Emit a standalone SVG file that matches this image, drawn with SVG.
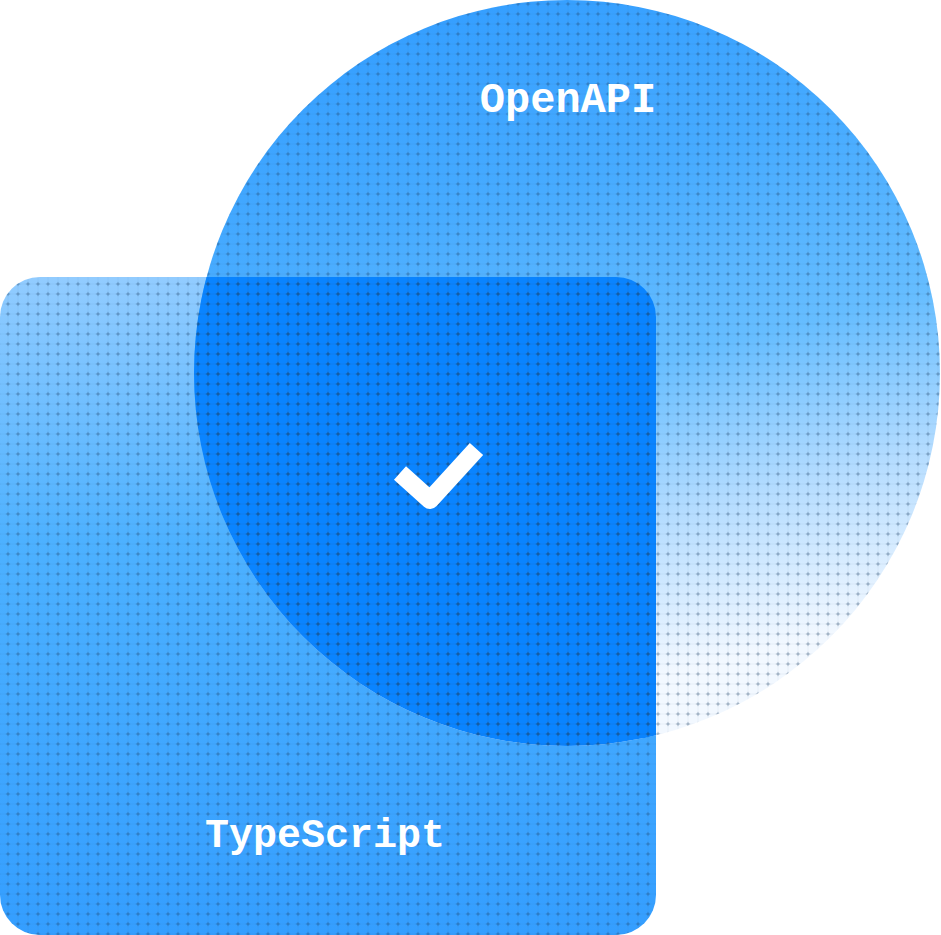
<svg xmlns="http://www.w3.org/2000/svg" width="941" height="935" viewBox="0 0 941 935">
  <defs>
    <style>
      .label { font-family: "Liberation Mono", "DejaVu Sans Mono", monospace; font-weight: 700; font-size: 40px; fill: #ffffff; text-anchor: middle; }
      .check { fill: none; stroke: #ffffff; stroke-width: 18; stroke-linejoin: round; stroke-linecap: butt; }
    </style>
    <linearGradient id="circleGrad" x1="0" y1="0" x2="0.25" y2="1">
      <stop offset="0" stop-color="#2e9aff"/>
      <stop offset="0.35" stop-color="#47abff"/>
      <stop offset="0.6" stop-color="#66bdff"/>
      <stop offset="0.8" stop-color="#b4dcff"/>
      <stop offset="1" stop-color="#f2f8ff"/>
    </linearGradient>
    <linearGradient id="rectGrad" x1="0" y1="0" x2="0" y2="1">
      <stop offset="0" stop-color="#92ccff"/>
      <stop offset="0.4" stop-color="#4db1ff"/>
      <stop offset="1" stop-color="#349eff"/>
    </linearGradient>
    <pattern id="dots" width="10" height="10" patternUnits="userSpaceOnUse" x="3" y="9">
      <path d="M0 5H10M5 0V10" stroke="#1f3f66" stroke-opacity="0.07" stroke-width="0.8" fill="none"/>
      <path d="M5 2.4L5.8 4.2L7.6 5L5.8 5.8L5 7.6L4.2 5.8L2.4 5L4.2 4.2Z" fill="#1f3f66" fill-opacity="0.36"/>
    </pattern>
    <clipPath id="rectClip">
      <rect x="0" y="277" width="656" height="658" rx="40" ry="40"/>
    </clipPath>
  </defs>

  <g id="typescript">
    <rect x="0" y="277" width="656" height="658" rx="40" ry="40" fill="url(#rectGrad)"/>
  </g>

  <g id="openapi">
    <circle cx="567" cy="373" r="373" fill="url(#circleGrad)"/>
  </g>

  <g id="overlap">
    <circle cx="567" cy="373" r="373" fill="#0a84ff" clip-path="url(#rectClip)"/>
  </g>

  <g id="texture">
    <rect x="0" y="277" width="656" height="658" rx="40" ry="40" fill="url(#dots)"/>
    <circle cx="567" cy="373" r="373" fill="url(#dots)"/>
  </g>

  <g id="labels">
    <text class="label" x="568" y="112" style="font-size:42px">OpenAPI</text>
    <text class="label" x="325" y="847">TypeScript</text>
  </g>

  <g id="check-mark">
    <polyline class="check" points="400,473 430,500 476.5,449"/>
  </g>

  <g id="connectors"/>
</svg>
